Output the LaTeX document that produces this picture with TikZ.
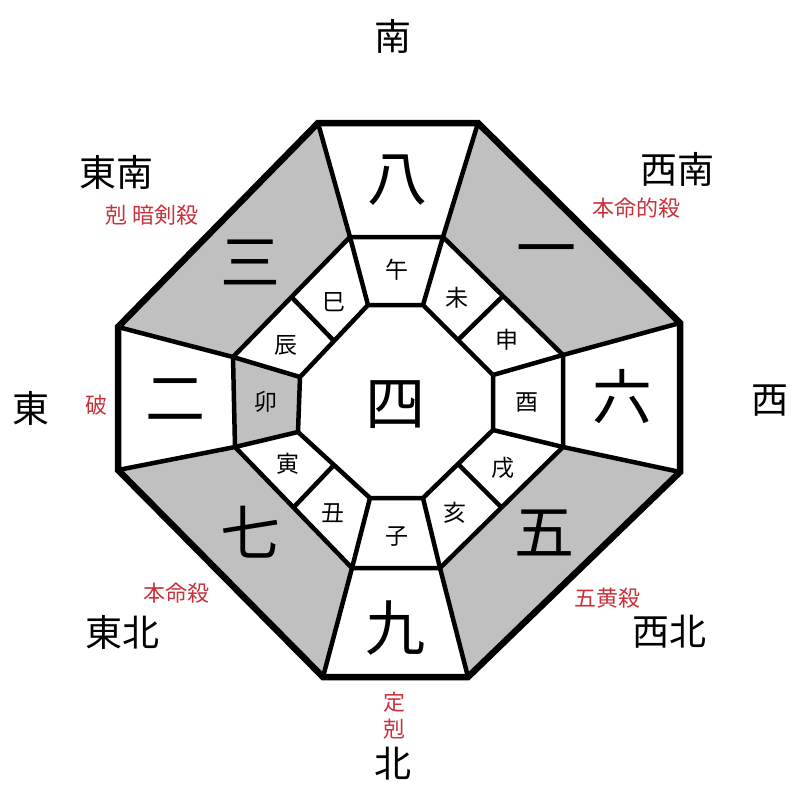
\documentclass[tikz,border=0pt]{standalone}
\usepackage{fontspec}
\setmainfont{Noto Sans CJK JP}
\usepackage{tikz}
\usetikzlibrary{calc}
\definecolor{cRed}{HTML}{C8323C}
\definecolor{cShade}{HTML}{C0C0C0}
\tikzset{
  ring/.style={line width=4.5pt,draw=black},
  rim/.style={line width=6.5pt,draw=black},
  sector/.style={fill=cShade},
  dirlbl/.style={font=\fontsize{37}{40}\selectfont,text=black,inner sep=0pt},
  redlbl/.style={font=\fontsize{22}{24}\selectfont,text=cRed,inner sep=0pt},
  numlbl/.style={font=\fontsize{60}{64}\selectfont,inner sep=0pt},
  branchlbl/.style={font=\fontsize{23}{26}\selectfont,inner sep=0pt},
}

\begin{document}
\begin{tikzpicture}[x=1pt,y=-1pt]
  \useasboundingbox (0,0) rectangle (800,800);
  % outer, middle and inner octagon corners
  \foreach \n/\ox/\oy/\mx/\my/\ix/\iy in {1/318/123/350/237/368/305,2/478/123/443/237/423/305,
      3/680/323/563/355/493/375,4/680/472/563/447/493/430,5/468/677/440/568/423/498,
      6/323/677/352/568/370/498,7/118/470/235/447/298/432,8/118/327/233/357/300/377}{
    \coordinate (o\n) at (\ox,\oy);
    \coordinate (m\n) at (\mx,\my);
    \coordinate (i\n) at (\ix,\iy);}
  % shaded sectors
  \foreach \a/\b in {2/3,4/5,6/7,8/1}
    \fill[sector] (o\a) -- (o\b) -- (m\b) -- (m\a) -- cycle;
  \fill[sector] (m7) -- (m8) -- (i8) -- (i7) -- cycle;
  % lines
  \draw[ring] (m1) -- (m2) -- (m3) -- (m4) -- (m5) -- (m6) -- (m7) -- (m8) -- cycle;
  \draw[ring] (i1) -- (i2) -- (i3) -- (i4) -- (i5) -- (i6) -- (i7) -- (i8) -- cycle;
  \foreach \n in {1,...,8}
    \draw[ring] (o\n) -- (m\n) -- (i\n);
  \foreach \a/\b in {2/3,4/5,6/7,8/1}
    \draw[ring] ($(m\a)!0.5!(m\b)$) -- ($(i\a)!0.5!(i\b)$);
  \draw[rim] (o1) -- (o2) -- (o3) -- (o4) -- (o5) -- (o6) -- (o7) -- (o8) -- cycle;
  % numbers
  \node[numlbl] (center) at (395,405) {四};
  \foreach \nm/\x/\y/\t in {n8/397/180/八,n1/546/258/一,n6/622/397/六,n5/544/533/五,
      n9/395/628/九,n7/250/532/七,n2/175/400/二,n3/250/262/三}
    \node[numlbl] (\nm) at (\x,\y) {\t};
  % branches
  \foreach \nm/\x/\y/\t in {uma/397/270/午,hitsuji/457/298/未,saru/507/340/申,tori/527/402/酉,
      inu/503/468/戌,i/455/513/亥,ne/397/537/子,ushi/333/513/丑,tora/288/464/寅,
      u/266/402/卯,tatsu/286/345/辰,mi/334/302/巳}
    \node[branchlbl] (\nm) at (\x,\y) {\t};
  % directions
  \foreach \nm/\x/\y/\t in {south/393/36/南,se/116/172/東南,sw/677/169/西南,east/31/408/東,
      west/770/401/西,ne/122/632/東北,nw/669/632/西北,north/393/764/北}
    \node[dirlbl] (\nm) at (\x,\y) {\t};
  % marks
  \node[redlbl] (anken) at (152,215) {剋 暗剣殺};
  \node[redlbl] (honmeiteki) at (636,208) {本命的殺};
  \node[redlbl] (ha) at (96,405) {破};
  \node[redlbl] (honmei) at (176,593) {本命殺};
  \node[redlbl] (gooh) at (607,598) {五黄殺};
  \node[redlbl] (jo) at (394,702) {定};
  \node[redlbl] (koku) at (394,729) {剋};
\end{tikzpicture}
\end{document}
